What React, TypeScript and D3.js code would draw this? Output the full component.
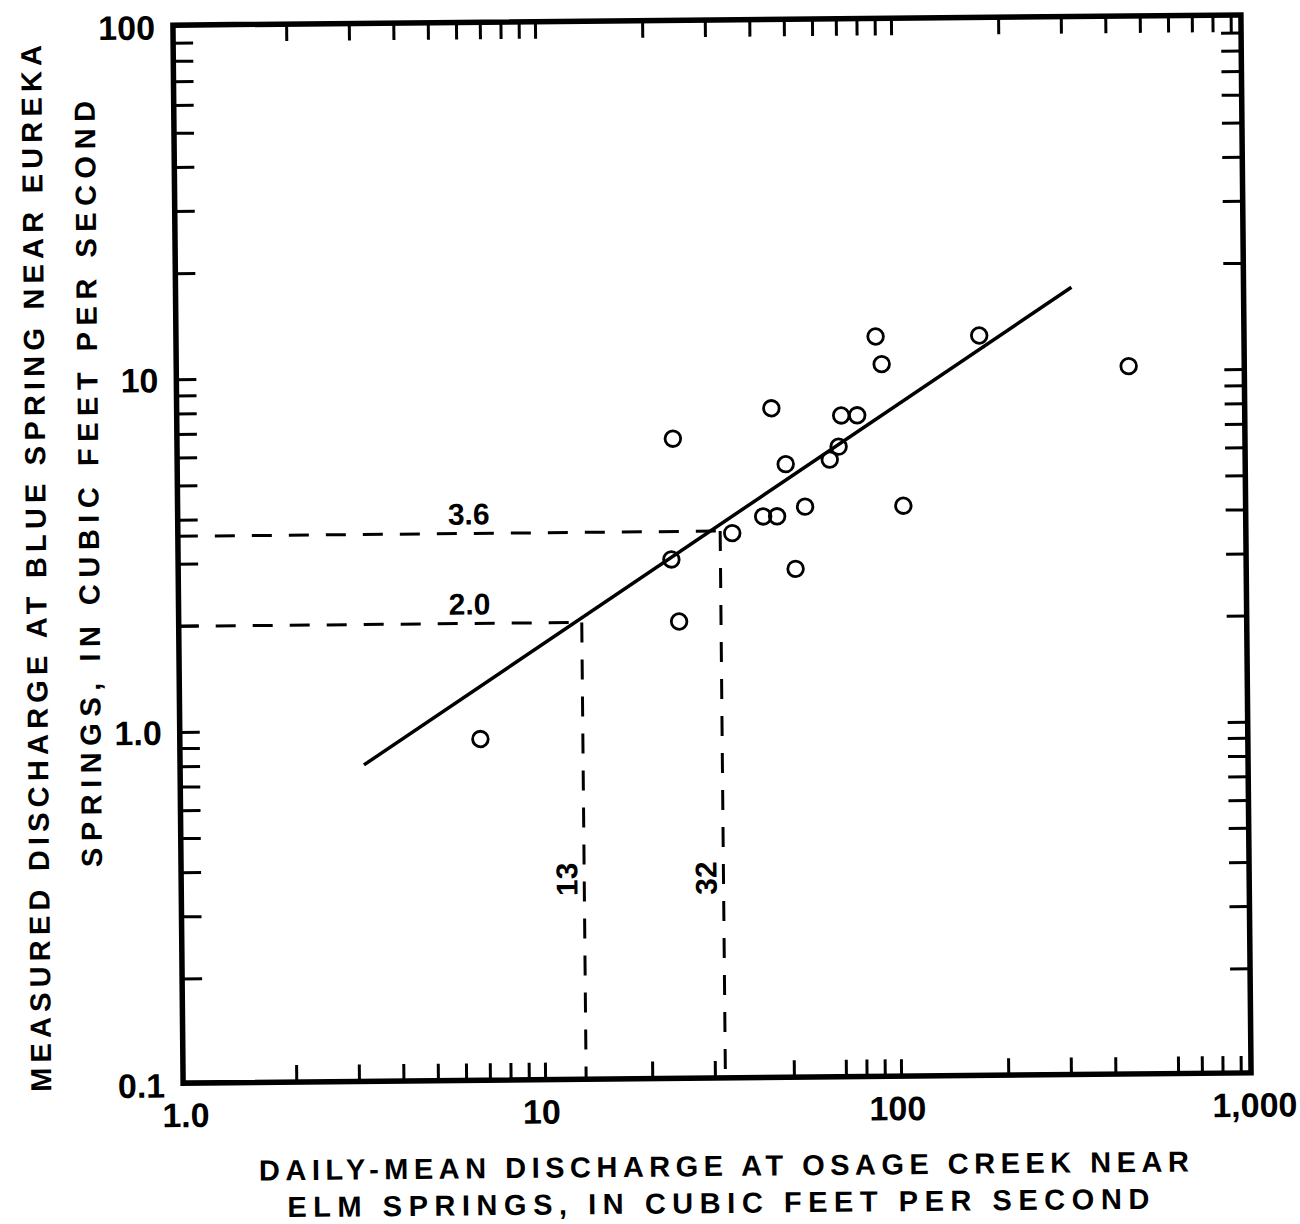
import React from 'react';
import * as d3 from 'd3';

// axis decades and labels
const xDecades = [1, 10, 100, 1000];
const xDecadeLabels = ['1.0', '10', '100', '1,000'];
const yDecades = [0.1, 1, 10, 100];
const yDecadeLabels = ['0.1', '1.0', '10', '100'];

// minor ticks (the scan is missing a few on the bottom axis)
const topTicks = [2, 3, 4, 5, 6, 7, 8, 9, 10, 20, 30, 40, 50, 60, 70, 80, 90, 100, 200, 300, 400, 500, 600, 700, 800, 900];
const bottomTicks = [2, 3, 4, 5, 6, 7, 8, 9, 10, 20, 30, 50, 70, 80, 90, 100, 200, 300, 400, 600, 700, 800, 900];
const sideTicks = [0.2, 0.3, 0.4, 0.5, 0.6, 0.7, 0.8, 0.9, 1, 2, 3, 4, 5, 6, 7, 8, 9, 10, 20, 30, 40, 50, 60, 70, 80, 90];

// measurements: Osage Creek (x) vs Blue Spring (y), cfs
const osage = [6.7, 23.7, 34.6, 23.3, 24.4, 88.5, 173, 91.9, 44.9, 70.5, 78.2, 69.2, 65.3, 49.1, 55.5, 104.8, 42.3, 46.3, 52.0, 454];
const blue = [0.94, 6.6, 3.55, 3.0, 2.0, 12.7, 12.7, 10.6, 8.0, 7.6, 7.6, 6.2, 5.7, 5.55, 4.2, 4.2, 3.95, 3.95, 2.8, 10.3];

// fitted relation
const fitX = [3.15, 315];
const fitY = [0.8, 17.3];

// read-off examples
const readX = [13, 32];
const readY = [2.0, 3.6];
const readXLabels = ['13', '32'];
const readYLabels = ['2.0', '3.6'];

const font = '"Liberation Sans", Arial, Helvetica, sans-serif';

export default function App() {
  // frame box and scale ranges differ slightly, as in the scanned original
  const fl = 178, fr = 1246, ft = 20, fb = 1078;
  const x = d3.scaleLog().domain([1, 1000]).range([184.5, 1252.5]);
  const y = d3.scaleLog().domain([0.1, 100]).range([fb + 2, ft + 2]);
  const tl = 17;

  const line = d3
    .line<number>()
    .x((d) => x(fitX[d]))
    .y((d) => y(fitY[d]));

  return (
    <svg
      width={1300}
      height={1224}
      style={{ position: 'absolute', left: 0, top: 0, background: '#fff' }}
      fontFamily={font}
      fontWeight="bold"
    >
      <g transform="rotate(-0.55 713 549)">
        {/* ticks */}
        <g stroke="#000" strokeWidth={3}>
          {topTicks.map((t) => (
            <line key={'t' + t} x1={x(t)} x2={x(t)} y1={ft} y2={ft + tl} />
          ))}
          {bottomTicks.map((t) => (
            <line key={'b' + t} x1={x(t)} x2={x(t)} y1={fb} y2={fb - tl} />
          ))}
          {sideTicks.map((t) => (
            <g key={'s' + t}>
              <line x1={fl} x2={fl + tl + 3} y1={y(t)} y2={y(t)} />
              <line x1={fr} x2={fr - tl - 3} y1={y(t)} y2={y(t)} />
            </g>
          ))}
        </g>

        {/* frame */}
        <rect x={fl} y={ft} width={fr - fl} height={fb - ft} fill="none" stroke="#000" strokeWidth={5.5} />

        {/* tick labels */}
        <g fontSize={34} fill="#000">
          {yDecades.map((d, i) => (
            <text key={'yl' + d} x={fl - 18} y={y(d)} dy="0.36em" textAnchor="end">
              {yDecadeLabels[i]}
            </text>
          ))}
          {xDecades.map((d, i) => (
            <text
              key={'xl' + d}
              x={i === xDecades.length - 1 ? fr + 46 : x(d) - 4}
              y={fb + 44}
              textAnchor={i === xDecades.length - 1 ? 'end' : 'middle'}
            >
              {xDecadeLabels[i]}
            </text>
          ))}
        </g>

        {/* read-off dashed lines */}
        <g stroke="#000" strokeWidth={3} strokeDasharray="20 17" fill="none">
          {readX.map((v, i) => (
            <g key={'r' + v}>
              <line x1={fl} x2={x(v)} y1={y(readY[i])} y2={y(readY[i])} />
              <line x1={x(v)} x2={x(v)} y1={y(readY[i])} y2={fb} />
            </g>
          ))}
        </g>
        <g fontSize={30} fill="#000">
          {readY.map((v, i) => (
            <text key={'ry' + v} x={469} y={y(v) - 9} textAnchor="middle">
              {readYLabels[i]}
            </text>
          ))}
          {readX.map((v, i) => (
            <text key={'rx' + v} transform={`translate(${x(v) - 7},${878}) rotate(-90)`} textAnchor="middle">
              {readXLabels[i]}
            </text>
          ))}
        </g>

        {/* fitted line */}
        <path d={line([0, 1]) || ''} fill="none" stroke="#000" strokeWidth={3.5} />

        {/* points */}
        <g fill="none" stroke="#000" strokeWidth={2.8}>
          {osage.map((v, i) => (
            <circle key={'p' + i} cx={x(v)} cy={y(blue[i])} r={7.8} />
          ))}
        </g>

        {/* axis titles */}
        <g fontSize={29} fill="#000">
          <text x={718} y={1176} textAnchor="middle" textLength={930} lengthAdjust="spacing">
            DAILY-MEAN DISCHARGE AT OSAGE CREEK NEAR
          </text>
          <text x={712} y={1213} textAnchor="middle" textLength={862} lengthAdjust="spacing">
            ELM SPRINGS, IN CUBIC FEET PER SECOND
          </text>
          <text transform="translate(46,562) rotate(-90)" textAnchor="middle" textLength={1047} lengthAdjust="spacing">
            MEASURED DISCHARGE AT BLUE SPRING NEAR EUREKA
          </text>
          <text transform="translate(99,478) rotate(-90)" textAnchor="middle" textLength={766} lengthAdjust="spacing">
            SPRINGS, IN CUBIC FEET PER SECOND
          </text>
        </g>
      </g>
    </svg>
  );
}
